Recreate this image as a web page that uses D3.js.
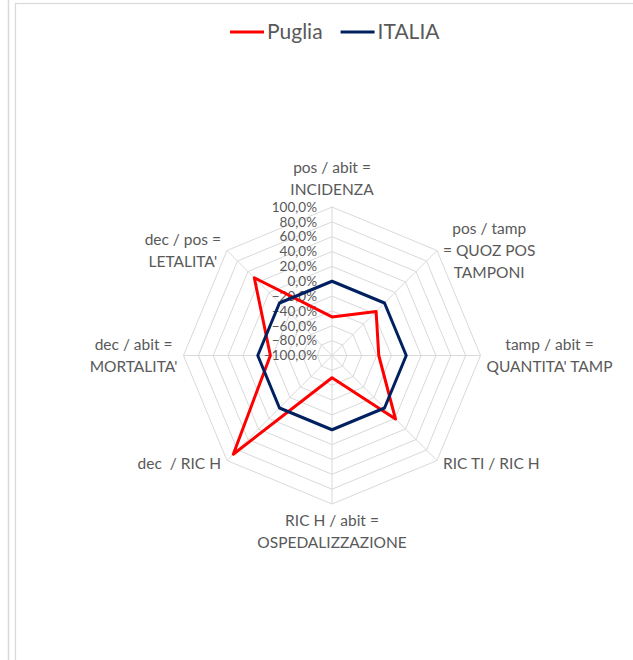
<!DOCTYPE html>
<html>
<head>
<meta charset="utf-8">
<script src="https://cdn.jsdelivr.net/npm/d3@7"></script>
<style>
  html, body { margin: 0; padding: 0; background: #fff; }
  svg { display: block; }
  text { font-family: Lato, "Open Sans", sans-serif; fill: #595959; white-space: pre; }
</style>
</head>
<body>
<svg id="chart" width="633" height="660"></svg>
<script>
// Indicators, clockwise from the top; each label is split into its display lines
const axisLabels = [
  ["pos / abit =", "INCIDENZA"],
  ["pos / tamp", "= QUOZ POS", "TAMPONI"],
  ["tamp / abit =", "QUANTITA' TAMP"],
  ["RIC TI / RIC H"],
  ["RIC H / abit =", "OSPEDALIZZAZIONE"],
  ["dec  / RIC H"],
  ["dec / abit =", "MORTALITA'"],
  ["dec / pos =", "LETALITA'"]
];

// Percentage deviation of each indicator (Italy is the reference = 0%)
const seriesNames = ["Puglia", "ITALIA"];
const pugliaValues = [-48, -16, -37, 21, -70, 88, -17, 48];
const italiaValues = [0, 0, 0, 0, 0, 0, 0, 0];

// Radial axis ticks
const tickValues = [-100, -80, -60, -40, -20, 0, 20, 40, 60, 80, 100];

const seriesColors = ["#ff0000", "#002060"];

const svg = d3.select("#chart");
const W = 633, H = 660;
const cx = 332, cy = 355.5, R = 148.5;

// Panel borders
svg.append("line").attr("x1", 8.5).attr("x2", 8.5).attr("y1", 0).attr("y2", H)
  .attr("stroke", "#d9d9d9").attr("stroke-width", 1.5);
svg.append("rect").attr("x", 15.5).attr("y", 3.5).attr("width", W).attr("height", H)
  .attr("fill", "none").attr("stroke", "#d9d9d9").attr("stroke-width", 1.2);

const r = d3.scaleLinear().domain([-100, 100]).range([0, R]);
const n = axisLabels.length;
const angle = d3.scaleLinear().domain([0, n]).range([0, 2 * Math.PI]);

const pt = (i, v) => {
  const a = angle(i);
  return [cx + r(v) * Math.sin(a), cy - r(v) * Math.cos(a)];
};

const g = svg.append("g");

// Grid rings (octagons)
const ring = d3.line();
g.selectAll("path.ring")
  .data(tickValues.slice(1))
  .join("path")
  .attr("class", "ring")
  .attr("d", v => ring(d3.range(n).map(i => pt(i, v))) + "Z")
  .attr("fill", "none")
  .attr("stroke", "#d9d9d9")
  .attr("stroke-width", 1);

// Spokes
g.selectAll("line.spoke")
  .data(d3.range(n))
  .join("line")
  .attr("class", "spoke")
  .attr("x1", cx).attr("y1", cy)
  .attr("x2", i => pt(i, 100)[0])
  .attr("y2", i => pt(i, 100)[1])
  .attr("stroke", "#d9d9d9")
  .attr("stroke-width", 1);

// Tick labels along the vertical axis
const itLocale = d3.formatLocale({ decimal: ",", thousands: ".", grouping: [3], currency: ["€", ""] });
const fmt = itLocale.format(".1f");
g.selectAll("text.tick")
  .data(tickValues)
  .join("text")
  .attr("class", "tick")
  .attr("x", cx - 15)
  .attr("y", v => cy - r(v))
  .attr("dy", "0.35em")
  .attr("text-anchor", "end")
  .style("font-size", "13.5px")
  .text(v => fmt(v) + "%");

// Axis labels placed just outside each vertex
const lineH = 22, gap = 6;
axisLabels.forEach((lines, i) => {
  const a = angle(i);
  const s = Math.sin(a), c = Math.cos(a);
  const [vx, vy] = pt(i, 100);
  const t = g.append("text").style("font-size", "15.5px");
  const spans = lines.map(l => t.append("tspan").text(l));
  const widths = spans.map(sp => sp.node().getComputedTextLength());
  const bw = d3.max(widths);
  const bh = lines.length * lineH;
  let mid;
  if (Math.abs(s) < 1e-6) mid = vx;
  else if (s > 0) mid = vx + gap + bw / 2;
  else mid = vx - gap - bw / 2;
  let top;
  if (Math.abs(s) < 1e-6) top = c > 0 ? vy - gap - bh : vy + gap;
  else top = vy - bh / 2 + (c < -0.1 ? 3 : 0);
  t.attr("text-anchor", "middle");
  spans.forEach((sp, k) => sp.attr("x", mid).attr("y", top + lineH * (k + 0.5)).attr("dy", "0.35em"));
});

// Series polygons
const seriesData = [pugliaValues, italiaValues];
const radar = d3.lineRadial()
  .angle((d, i) => angle(i))
  .radius(d => r(d))
  .curve(d3.curveLinearClosed);
g.selectAll("path.series")
  .data(seriesData)
  .join("path")
  .attr("class", "series")
  .attr("transform", `translate(${cx},${cy})`)
  .attr("d", d => radar(d))
  .attr("fill", "none")
  .attr("stroke", (d, k) => seriesColors[k])
  .attr("stroke-width", 3)
  .attr("stroke-linejoin", "round");

// Legend
const legend = svg.append("g").attr("transform", "translate(0,32)");
let lx = 230;
seriesNames.forEach((name, k) => {
  legend.append("line").attr("x1", lx).attr("x2", lx + 34).attr("y1", 0).attr("y2", 0)
    .attr("stroke", seriesColors[k]).attr("stroke-width", 3);
  const tx = legend.append("text").attr("x", lx + 37).attr("y", 0).attr("dy", "0.35em")
    .style("font-size", "21px").text(name);
  lx += 37 + tx.node().getComputedTextLength() + 18;
});
</script>
</body>
</html>
